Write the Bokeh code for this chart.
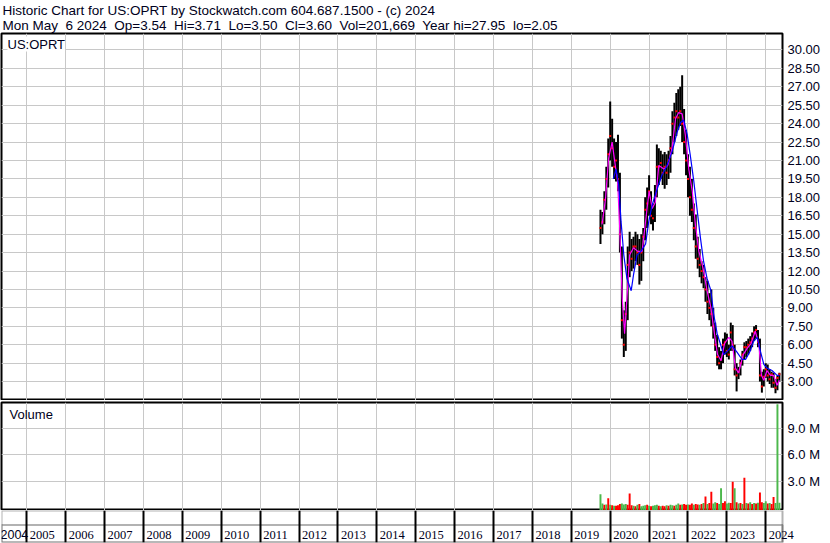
from bokeh.plotting import figure
from bokeh.models import (Range1d, LinearAxis, FixedTicker, PrintfTickFormatter, Grid, Title,
                          Label, LabelSet, ColumnDataSource, BoxAnnotation)
from bokeh.layouts import column
from bokeh.embed import file_html
from bokeh.resources import INLINE

# ---------------- data ----------------
TITLE_1 = "Historic Chart for US:OPRT by Stockwatch.com 604.687.1500 - (c) 2024"
TITLE_2 = "Mon May  6 2024  Op=3.54  Hi=3.71  Lo=3.50  Cl=3.60  Vol=201,669  Year hi=27.95  lo=2.05"
SYMBOL = "US:OPRT"
VOLUME_LABEL = "Volume"

YEARS = list(range(2005, 2025))
FIRST_YEAR_LABEL = "2004"
PRICE_TICKS = [3.0, 4.5, 6.0, 7.5, 9.0, 10.5, 12.0, 13.5, 15.0, 16.5, 18.0, 19.5,
               21.0, 22.5, 24.0, 25.5, 27.0, 28.5, 30.0]
VOLUME_TICKS = [3, 6, 9]   # millions

# price samples (decimal years, roughly every 2.6 weeks)
HIGH = [17.0, 16.8, 18.5, 20.5, 22.8, 25.8, 24.4, 22.8, 22.5, 23.1,
        20.0, 14.0, 8.8, 9.5, 14.0, 15.2, 14.6, 14.8, 15.2, 15.0,
        14.6, 15.0, 15.5, 18.0, 18.8, 19.8, 18.5, 17.5, 19.0, 22.3,
        22.0, 21.8, 21.5, 21.7, 21.5, 21.8, 23.0, 25.0, 25.7, 26.5,
        26.8, 27.0, 27.95, 25.2, 23.5, 21.5, 20.5, 19.5, 17.5, 16.6,
        14.8, 13.8, 12.8, 12.5, 11.5, 11.2, 10.2, 10.5, 9.0, 7.8,
        6.8, 5.8, 5.5, 6.5, 7.0, 6.9, 6.0, 7.8, 7.6, 6.0,
        4.5, 4.2, 4.8, 5.5, 6.2, 6.3, 6.5, 6.7, 7.0, 7.5,
        7.6, 7.2, 6.5, 3.8, 4.0, 4.5, 4.4, 4.0, 3.8, 3.7,
        3.2, 3.5, 3.71]
LOW = [14.2, 15.0, 15.8, 17.0, 18.8, 21.0, 20.5, 19.5, 19.3, 18.5,
       13.5, 6.5, 5.0, 5.5, 8.0, 11.5, 12.0, 12.2, 12.8, 12.5,
       10.9, 11.2, 12.8, 14.5, 15.5, 16.5, 15.8, 15.3, 16.0, 18.0,
       19.0, 19.5, 19.0, 18.7, 19.0, 19.5, 20.0, 21.5, 22.5, 23.0,
       23.5, 23.8, 22.5, 21.5, 19.8, 18.0, 16.5, 16.0, 14.5, 13.0,
       12.2, 11.5, 11.0, 10.6, 9.5, 8.5, 8.0, 7.5, 6.5, 5.5,
       4.3, 4.0, 4.0, 4.5, 5.2, 5.0, 4.8, 5.5, 5.5, 3.5,
       2.2, 3.2, 3.5, 4.3, 4.8, 5.0, 5.2, 5.5, 5.8, 6.3,
       6.5, 5.8, 3.0, 2.1, 2.6, 3.3, 3.0, 2.8, 2.5, 2.5,
       2.05, 2.3, 3.0]
CLOSE = [15.5, 16.0, 17.8, 19.5, 21.5, 23.0, 22.0, 20.5, 21.0, 19.5,
         15.0, 8.0, 6.0, 8.5, 12.5, 13.5, 13.0, 14.0, 14.0, 13.5,
         12.5, 13.5, 14.8, 17.0, 17.5, 18.5, 16.5, 16.3, 18.0, 20.5,
         20.5, 20.8, 20.0, 20.5, 20.0, 21.0, 22.0, 24.0, 24.5, 25.0,
         24.5, 25.0, 24.0, 22.5, 21.0, 19.5, 18.0, 17.0, 15.5, 14.0,
         13.0, 12.5, 12.0, 11.5, 10.5, 9.5, 9.0, 8.5, 7.5, 6.0,
         5.0, 4.5, 4.8, 6.0, 6.2, 5.5, 5.2, 7.0, 6.0, 4.0,
         3.5, 3.8, 4.5, 5.2, 5.8, 5.8, 6.0, 6.2, 6.5, 7.0,
         7.2, 6.2, 3.5, 2.6, 3.4, 4.0, 3.5, 3.2, 3.6, 2.9,
         2.5, 3.3, 3.6]
# volume in millions, with direction of the day (u = up / green, d = down / red)
VOLUME = [1.5, 0.45, 0.3, 0.35, 1.05, 0.3, 0.25, 0.2, 0.2, 0.25,
          0.4, 0.45, 0.35, 0.4, 0.3, 1.6, 0.25, 0.2, 0.15, 0.3,
          0.4, 0.15, 0.2, 0.25, 0.3, 0.2, 0.15, 0.2, 0.25, 0.3,
          0.2, 0.15, 0.2, 0.15, 0.25, 0.2, 0.3, 0.25, 0.2, 0.3,
          0.45, 0.3, 0.35, 0.4, 0.3, 0.35, 0.3, 0.45, 0.3, 0.4,
          0.35, 0.3, 0.4, 0.5, 1.25, 0.4, 0.5, 1.8, 0.45, 0.6,
          0.5, 0.4, 2.2, 0.5, 0.7, 0.45, 0.55, 0.5, 2.95, 2.2,
          0.6, 0.45, 0.5, 0.4, 3.4, 0.5, 0.45, 0.6, 0.4, 0.5,
          0.45, 0.55, 1.7, 0.6, 0.5, 0.7, 0.45, 0.5, 0.4, 1.2,
          0.5, 11.8, 0.55]
VOL_DIR = list("uudududu" "dd" "duuudddudu" "duuududuuu" "dudduduudu" "ududduddud"
               "dudududduu" "duudduuddu" "dududududu" "dudduududd" "uuu")
T_START, T_STEP = 2019.75, 0.05
T = [round(T_START + T_STEP * i, 2) for i in range(len(HIGH))]

# moving averages
FAST_T = [2019.79, 2019.88, 2019.96, 2020.05, 2020.13, 2020.19, 2020.24, 2020.31, 2020.37, 2020.43,
          2020.50, 2020.60, 2020.71, 2020.82, 2020.93, 2021.00, 2021.08, 2021.16, 2021.25, 2021.38,
          2021.48, 2021.59, 2021.68, 2021.76, 2021.85, 2021.93, 2022.02, 2022.11, 2022.19, 2022.28,
          2022.39, 2022.49, 2022.59, 2022.68, 2022.76, 2022.85, 2022.94, 2023.05, 2023.13, 2023.22,
          2023.30, 2023.42, 2023.52, 2023.62, 2023.73, 2023.82, 2023.89, 2023.95, 2024.03, 2024.12,
          2024.20, 2024.29, 2024.35]
FAST_MA = [15.8, 17.9, 21.2, 22.5, 20.6, 19.3, 15.8, 9.8, 6.9, 9.8,
           13.3, 13.9, 13.6, 13.6, 16.6, 18.5, 17.1, 17.6, 20.6, 20.3,
           20.6, 22.0, 24.4, 24.9, 24.8, 23.1, 20.3, 18.5, 15.8, 13.6,
           12.2, 10.4, 9.0, 6.9, 5.2, 4.7, 6.1, 6.6, 6.3, 4.1,
           3.7, 5.2, 5.7, 6.1, 7.1, 6.1, 3.5, 3.1, 3.9, 3.5,
           3.5, 2.7, 3.1]
SLOW_T = [2020.08, 2020.15, 2020.22, 2020.28, 2020.35, 2020.43, 2020.54, 2020.60, 2020.69, 2020.79,
          2020.91, 2020.99, 2021.08, 2021.21, 2021.33, 2021.46, 2021.59, 2021.72, 2021.81, 2021.89,
          2021.98, 2022.06, 2022.15, 2022.23, 2022.32, 2022.40, 2022.49, 2022.59, 2022.66, 2022.75,
          2022.83, 2022.92, 2023.05, 2023.13, 2023.26, 2023.39, 2023.48, 2023.60, 2023.69, 2023.78,
          2023.86, 2023.95, 2024.03, 2024.16, 2024.29, 2024.35]
SLOW_MA = [19.5, 20.3, 19.0, 16.0, 13.3, 11.4, 10.4, 11.7, 13.3, 13.6,
           14.2, 16.0, 17.4, 18.7, 19.8, 20.6, 21.7, 23.3, 24.1, 24.3,
           23.1, 21.4, 19.3, 17.1, 14.7, 12.8, 11.4, 10.4, 8.5, 6.9,
           6.1, 5.2, 5.6, 5.9, 5.4, 4.8, 4.8, 5.5, 6.3, 6.6,
           5.5, 4.4, 4.1, 3.9, 3.5, 3.5]

# ---------------- styling ----------------
FONT = "Liberation Sans"
FS = "13px"
GRID_COLOR = "#C8C8C8"
GREEN = "#4CB84C"
RED = "#FF0000"
X_START, X_END = 2004.35, 2024.43
PRICE_LO, PRICE_HI = 1.46, 31.34
VOL_LO, VOL_HI = -0.35, 12.0
W = 830
LEFT, RIGHT = 1, 48
TEXT_COLOR = "#000020"
NBSP = "\u00a0"


def base_fig(height, x_rng, y_range, top, bottom, right=RIGHT, outline="black"):
    f = figure(width=W, height=height, x_range=x_rng, y_range=y_range,
               x_axis_location=None, y_axis_location=None, title=None,
               output_backend="svg", toolbar_location=None,
               min_border_left=LEFT, min_border_right=right,
               min_border_top=top, min_border_bottom=bottom,
               outline_line_color=outline, outline_line_width=2,
               background_fill_color="white", border_fill_color="white")
    f.frame_align = False
    f.center = [r for r in f.center if not isinstance(r, Grid)]
    return f


def right_axis(ticks, fmt):
    return LinearAxis(ticker=FixedTicker(ticks=ticks), formatter=PrintfTickFormatter(format=fmt),
                      axis_line_color=None, major_tick_line_color=None, minor_tick_line_color=None,
                      major_tick_out=0, major_tick_in=0, minor_tick_out=0, minor_tick_in=0,
                      major_label_standoff=5, major_label_text_font=FONT,
                      major_label_text_font_size=FS, major_label_text_color=TEXT_COLOR)


x_range = Range1d(X_START, X_END)

# ---------- price panel ----------
p = base_fig(400, x_range, Range1d(PRICE_LO, PRICE_HI), 0, 0)
title_text = TITLE_1 + "\n" + TITLE_2.replace("  ", NBSP + " ")
p.add_layout(Title(text=title_text, text_font=FONT, text_font_size="13.5px", text_font_style="normal",
                   text_color=TEXT_COLOR, align="left", offset=1, standoff=1,
                   text_line_height=0.98), "above")
p.add_layout(Grid(dimension=0, ticker=FixedTicker(ticks=YEARS), grid_line_color=GRID_COLOR,
                  grid_line_width=1))
p.add_layout(Grid(dimension=1, ticker=FixedTicker(ticks=PRICE_TICKS), grid_line_color=GRID_COLOR,
                  grid_line_width=1))
p.add_layout(right_axis(PRICE_TICKS, "%.2f"), "right")

src = ColumnDataSource(dict(t=T, hi=HIGH, lo=LOW, cl=CLOSE))
p.segment(x0="t", y0="lo", x1="t", y1="hi", source=src, line_color="black", line_width=2.0)
p.scatter(x="t", y="cl", source=src, marker="square", size=2, fill_color=RED, line_color=None)
p.line(FAST_T, FAST_MA, line_color="#FF00FF", line_width=1.2)
p.line(SLOW_T, SLOW_MA, line_color="#0000FF", line_width=1.2)
p.add_layout(Label(x=X_START, y=PRICE_HI, x_offset=6, y_offset=-3, text=SYMBOL,
                   text_baseline="top", text_font=FONT, text_font_size=FS, text_color=TEXT_COLOR,
                   background_fill_color="white"))

# ---------- volume panel ----------
pv = base_fig(110, x_range, Range1d(VOL_LO, VOL_HI), 2, 0)
pv.add_layout(Grid(dimension=0, ticker=FixedTicker(ticks=YEARS), grid_line_color=GRID_COLOR))
pv.add_layout(Grid(dimension=1, ticker=FixedTicker(ticks=VOLUME_TICKS), grid_line_color=GRID_COLOR))
pv.add_layout(right_axis(VOLUME_TICKS, "%.1f M"), "right")
vsrc = ColumnDataSource(dict(t=T, v=VOLUME, c=[GREEN if d == "u" else RED for d in VOL_DIR]))
pv.vbar(x="t", top="v", bottom=VOL_LO, width=0.05, source=vsrc, fill_color="c", line_color=None)
pv.add_layout(Label(x=X_START, y=VOL_HI, x_offset=8, y_offset=-4, text=VOLUME_LABEL,
                    text_baseline="top", text_font=FONT, text_font_size=FS, text_color=TEXT_COLOR))

# ---------- year strip (frame runs to the page edge so the last label can overflow) ----------
px_per_year = (W - LEFT - RIGHT) / (X_END - X_START)
X_END_STRIP = X_START + (W - LEFT) / px_per_year
ps = base_fig(33, Range1d(X_START, X_END_STRIP), Range1d(0, 2), 0, 1, right=0, outline=None)
ps.add_layout(Grid(dimension=0, ticker=FixedTicker(ticks=YEARS), grid_line_color="black",
                   grid_line_width=2))
ps.add_layout(BoxAnnotation(left=X_START, right=X_END, bottom=0, top=2, fill_alpha=0,
                            line_color="black", line_width=2))
ps.add_layout(BoxAnnotation(left=X_START, right=X_END, bottom=0, top=1.1, fill_alpha=0,
                            line_color="black", line_width=2))
ysrc = ColumnDataSource(dict(x=YEARS, text=[str(y) for y in YEARS]))
ps.add_layout(LabelSet(x="x", y=0.5, text="text", source=ysrc, x_offset=3, text_baseline="middle",
                       text_font=FONT, text_font_size="12.5px", text_color=TEXT_COLOR))
ps.add_layout(Label(x=X_START, y=0.5, x_offset=-1, text=FIRST_YEAR_LABEL, text_baseline="middle",
                    text_font=FONT, text_font_size="12.5px", text_color=TEXT_COLOR))

layout = column(p, pv, ps, spacing=0)
open("out.html", "w").write(file_html(layout, INLINE))
